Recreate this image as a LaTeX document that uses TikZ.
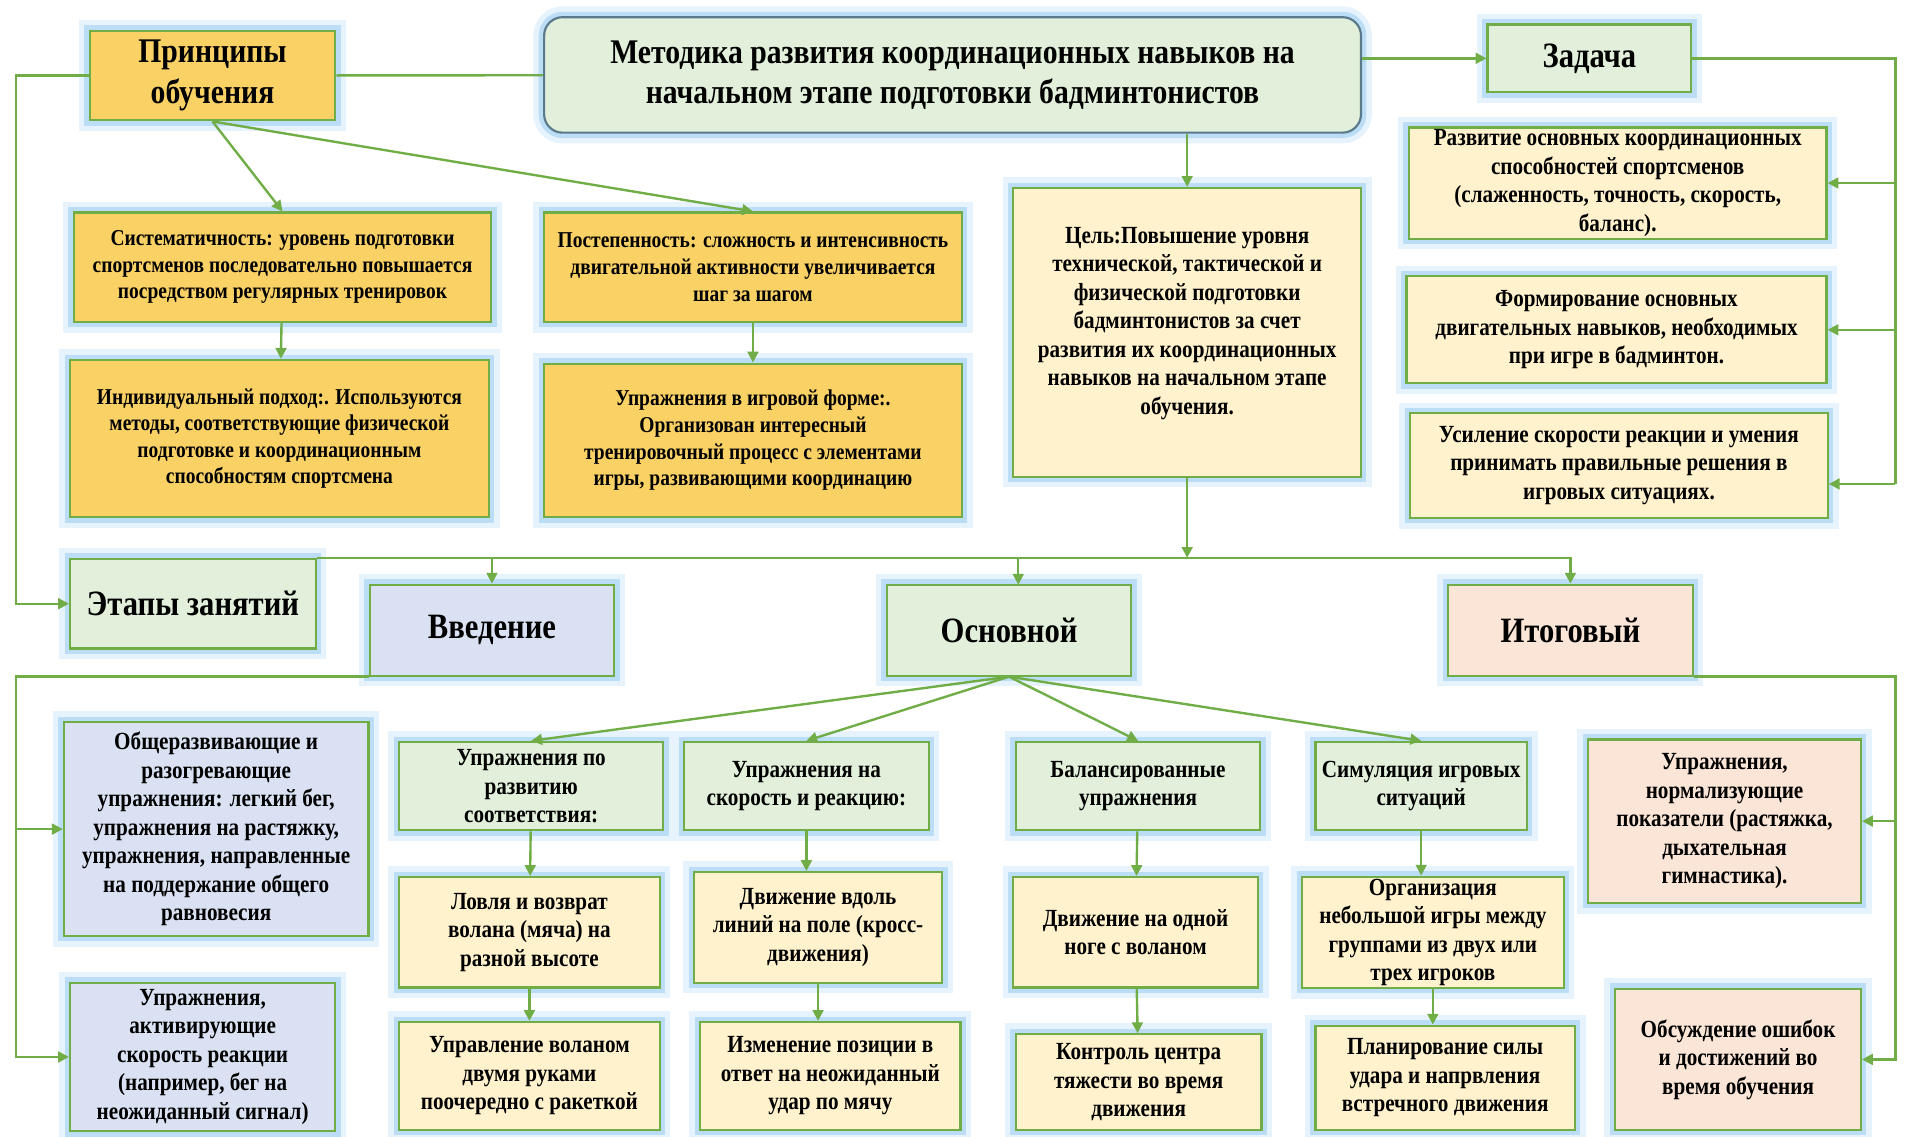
\documentclass[tikz,border=0pt]{standalone}
\usepackage{fontspec}
\setmainfont{Liberation Serif}[FakeStretch=0.86]
\usetikzlibrary{arrows.meta}
\definecolor{lgreen}{HTML}{70AD47}
\definecolor{cgold}{HTML}{FAD165}
\definecolor{ccream}{HTML}{FFF2CC}
\definecolor{cgreen}{HTML}{E2EFDA}
\definecolor{cblue}{HTML}{D9E1F2}
\definecolor{cpeach}{HTML}{FBE5D6}
\definecolor{glowa}{HTML}{E6F2FC}
\definecolor{glowb}{HTML}{BCDDF6}
\definecolor{cslate}{HTML}{5A7A8C}
\tikzset{
  box/.style={draw=lgreen, line width=1pt, align=center, inner sep=1pt,
    preaction={draw=glowa, line width=10pt}, preaction={draw=glowb, line width=5pt}},
  goldbox/.style={box, fill=cgold},
  creambox/.style={box, fill=ccream},
  greenbox/.style={box, fill=cgreen},
  bluebox/.style={box, fill=cblue},
  peachbox/.style={box, fill=cpeach},
  txts/.style={font=\fontsize{10.5}{12.3}\selectfont\bfseries},
  txtm/.style={font=\fontsize{11.4}{13.2}\selectfont\bfseries},
  txtl/.style={font=\fontsize{16}{18.7}\selectfont\bfseries},
  txth/.style={font=\fontsize{16.5}{19}\selectfont\bfseries},
  link/.style={draw=lgreen, line width=1.1pt},
  arr/.style={link, -{Triangle[length=5pt,width=5pt]}},
}
\begin{document}
\begin{tikzpicture}[x=0.2mm, y=-0.2mm]
\useasboundingbox (0,0) rectangle (1568,925);
% upper part
\node[goldbox, txtl, minimum width=40mm, minimum height=14.6mm] (princ) at (173,61.5) {Принципы\\обучения};
\node[greenbox, txtl, draw=cslate, rounded corners=3mm, minimum width=133mm, minimum height=18.8mm] (title) at (775.5,61) {Методика развития координационных навыков на\\начальном этапе подготовки бадминтонистов};
\node[greenbox, txth, minimum width=33.2mm, minimum height=11mm] (zad) at (1294,47.5) {Задача};
\node[creambox, txtm, minimum width=68mm, minimum height=18mm] (task1) at (1317,149) {Развитие основных координационных\\способностей спортсменов\\(слаженность, точность,  скорость,\\баланс).};
\node[creambox, txtm, minimum width=68.4mm, minimum height=17.4mm] (task2) at (1316,268.5) {Формирование основных\\двигательных навыков, необходимых\\при игре в бадминтон.};
\node[creambox, txtm, minimum width=68mm, minimum height=17mm] (task3) at (1318,379) {Усиление скорости реакции и умения\\принимать правильные решения в\\игровых ситуациях.};
\node[creambox, txtm, minimum width=56.6mm, minimum height=47mm] (goal) at (966.5,270.5) {Цель:Повышение уровня\\технической, тактической и\\физической подготовки\\бадминтонистов за счет\\развития их координационных\\навыков на начальном этапе\\обучения.\\[-0.8mm]};
\node[goldbox, txts, minimum width=68mm, minimum height=17.8mm] (sys) at (230,217.5) {Систематичность: уровень подготовки\\спортсменов последовательно повышается\\посредством регулярных тренировок};
\node[goldbox, txts, minimum width=68mm, minimum height=17.8mm] (post) at (613,217.5) {Постепенность: сложность и интенсивность\\двигательной активности увеличивается\\шаг за шагом};
\node[goldbox, txts, minimum width=68.2mm, minimum height=25.6mm] (indiv) at (227.5,357) {Индивидуальный  подход:. Используются\\методы, соответствующие физической\\подготовке и координационным\\способностям спортсмена};
\node[goldbox, txts, minimum width=68mm, minimum height=25mm] (game) at (613,358.5) {Упражнения в игровой форме:.\\Организован интересный\\тренировочный процесс с элементами\\игры, развивающими координацию};
% stages
\node[greenbox, txth, minimum width=40mm, minimum height=14.6mm] (etap) at (157,491.5) {Этапы занятий};
\node[bluebox, txth, minimum width=39.8mm, minimum height=14.8mm] (vved) at (400.5,513) {Введение};
\node[greenbox, txth, minimum width=39.8mm, minimum height=14.8mm] (osn) at (821.5,513) {Основной};
\node[peachbox, txth, minimum width=39.8mm, minimum height=14.8mm] (itog) at (1278.5,513) {Итоговый};
% lower part
\node[bluebox, txtm, minimum width=49.6mm, minimum height=34.8mm] (obshch) at (176,675) {Общеразвивающие и\\разогревающие\\упражнения: легкий бег,\\упражнения на растяжку,\\упражнения, направленные\\на поддержание общего\\равновесия};
\node[bluebox, txtm, minimum width=43.2mm, minimum height=24.2mm] (aktiv) at (165,860.5) {Упражнения,\\активирующие\\скорость  реакции\\(например, бег на\\неожиданный сигнал)};
\node[greenbox, txtm, minimum width=43mm, minimum height=14.4mm] (razv) at (432.5,640) {Упражнения по\\развитию\\соответствия:};
\node[greenbox, txtm, minimum width=39.8mm, minimum height=14.4mm] (skor) at (656.5,640) {Упражнения на\\скорость  и реакцию:};
\node[greenbox, txtm, minimum width=39.8mm, minimum height=14.4mm] (bal) at (926.5,640) {Балансированные\\упражнения};
\node[greenbox, txtm, minimum width=34.4mm, minimum height=14.4mm] (sim) at (1157,640) {Симуляция игровых\\ситуаций};
\node[peachbox, txtm, minimum width=44.4mm, minimum height=26.6mm] (norm) at (1404,668.5) {Упражнения,\\нормализующие\\показатели (растяжка,\\дыхательная\\гимнастика).};
\node[creambox, txtm, minimum width=42.4mm, minimum height=18mm] (lovl) at (431,759) {Ловля и возврат\\волана (мяча) на\\разной высоте};
\node[creambox, txtm, minimum width=40.4mm, minimum height=18mm] (dvl) at (666,755) {Движение вдоль\\линий на поле (кросс-\\движения)};
\node[creambox, txtm, minimum width=39.8mm, minimum height=18mm] (noga) at (924.5,759) {Движение на одной\\ноге с воланом};
\node[creambox, txtm, minimum width=42.6mm, minimum height=18mm] (org) at (1166.5,759) {Организация\\небольшой игры между\\группами из двух или\\трех игроков};
\node[creambox, txtm, minimum width=42.4mm, minimum height=17.6mm] (upr) at (431,876) {Управление воланом\\двумя руками\\поочередно с ракеткой};
\node[creambox, txtm, minimum width=42.4mm, minimum height=17.6mm] (izm) at (676,876) {Изменение позиции в\\ответ на неожиданный\\удар по мячу};
\node[creambox, txtm, minimum width=40mm, minimum height=15.6mm] (kontr) at (927,881) {Контроль  центра\\тяжести во время\\движения};
\node[creambox, txtm, minimum width=42.2mm, minimum height=17mm] (plan) at (1176.5,877.5) {Планирование силы\\удара и напрвления\\встречного движения};
\node[peachbox, txtm, minimum width=40mm, minimum height=23mm] (obsuzh) at (1415,862.5) {Обсуждение ошибок\\и достижений во\\время обучения};
% bus corners
\coordinate (lp) at (13,300);
\coordinate (rz) at (1543,394);
\coordinate (lb) at (13,700);
\coordinate (rb) at (1543,700);
\coordinate (osnin) at (829,476);
% connectors
\draw[link] (princ) -- (title);
\draw[arr] (princ.west) -| (lp) |- (etap.west);
\draw[arr] (title.east |- zad.west) -- (zad.west);
\draw[link] (zad.east) -| (rz);
\draw[arr] (rz |- task1.east) -- (task1.east);
\draw[arr] (rz |- task2.east) -- (task2.east);
\draw[arr] (rz) -- (rz -| task3.east);
\draw[arr] (goal.north |- title.south) -- (goal.north);
\draw[arr] (princ.south) -- (sys.north);
\draw[arr] (princ.south) -- (post.north);
\draw[arr] (sys) -- (indiv);
\draw[arr] (post) -- (game);
\draw[arr] (goal.south) -- (goal.south |- etap.north);
\draw[arr] (etap.north east) -| (itog.north);
\draw[arr] (vved.north |- etap.north) -- (vved.north);
\draw[arr] (osnin |- etap.north) -- (osnin);
\draw[arr] (osn.south) -- (razv.north);
\draw[arr] (osn.south) -- (skor.north);
\draw[arr] (osn.south) -- (bal.north);
\draw[arr] (osn.south) -- (sim.north);
\draw[arr] (razv) -- (lovl);
\draw[arr] (lovl) -- (upr);
\draw[arr] (skor.south) -- (skor.south |- dvl.north);
\draw[arr] (dvl.south) -- (dvl.south |- izm.north);
\draw[arr] (bal) -- (noga);
\draw[arr] (noga) -- (kontr);
\draw[arr] (sim.south) -- (sim.south |- org.north);
\draw[arr] (org.south) -- (org.south |- plan.north);
\draw[arr] (vved.south west) -| (lb) |- (aktiv.west);
\draw[arr] (lb |- obshch.west) -- (obshch.west);
\draw[arr] (itog.south east) -| (rb) |- (obsuzh.east);
\draw[arr] (rb |- norm.east) -- (norm.east);
\end{tikzpicture}
\end{document}
